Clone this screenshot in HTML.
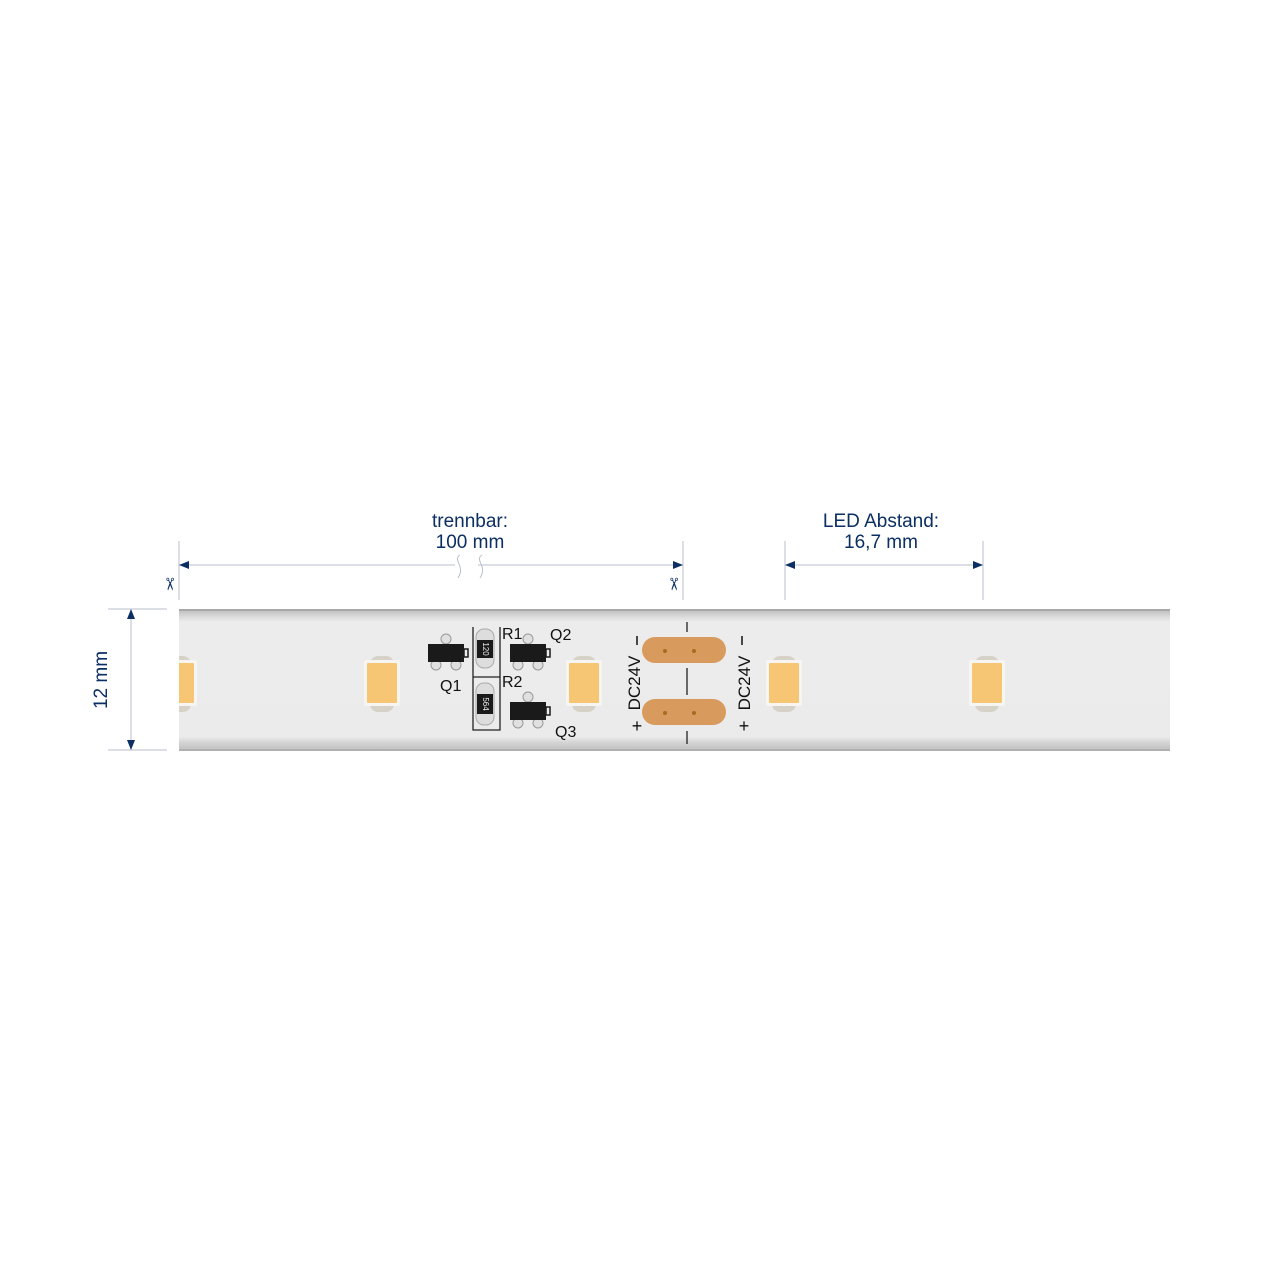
<!DOCTYPE html>
<html><head><meta charset="utf-8"><style>body{margin:0;background:#fff}svg{display:block}</style></head><body>
<svg width="1280" height="1280" viewBox="0 0 1280 1280" xmlns="http://www.w3.org/2000/svg" font-family="Liberation Sans, sans-serif">
<defs>
<linearGradient id="strip" x1="0" y1="0" x2="0" y2="1">
<stop offset="0" stop-color="#b9b9b9"/><stop offset="0.05" stop-color="#d8d8d8"/><stop offset="0.09" stop-color="#ececec"/>
<stop offset="0.9" stop-color="#ebebeb"/><stop offset="0.94" stop-color="#d4d4d4"/><stop offset="1" stop-color="#bdbdbd"/>
</linearGradient>
<g id="led">
<rect x="-12" y="-26" width="24" height="56" rx="8" fill="#d6d2c8"/>
<rect x="-18" y="-22" width="36" height="46" rx="2" fill="#f6f5f1"/>
<rect x="-15" y="-19" width="30" height="40" rx="1" fill="#f6c675"/>
</g>
<g id="tr">
<circle cx="0" cy="-14" r="5" fill="#e0e0e0" stroke="#999"/>
<circle cx="-10" cy="12" r="5" fill="#e0e0e0" stroke="#999"/>
<circle cx="10" cy="12" r="5" fill="#e0e0e0" stroke="#999"/>
<rect x="-18" y="-9" width="36" height="18" fill="#1a1a1a"/>
<rect x="18" y="-4" width="4" height="8" fill="none" stroke="#1a1a1a" stroke-width="1.5"/>
</g>
</defs>
<rect x="179" y="609" width="991" height="142" fill="url(#strip)"/>
<rect x="179" y="609" width="991" height="2" fill="#a8a8a8"/>
<rect x="179" y="749" width="991" height="2" fill="#b0b0b0"/>
<svg x="179" y="600" width="20" height="160" overflow="hidden"><use href="#led" x="0" y="82"/></svg>
<use href="#led" x="382" y="682"/>
<use href="#led" x="584" y="682"/>
<use href="#led" x="784" y="682"/>
<use href="#led" x="987" y="682"/>
<use href="#tr" x="446" y="653"/>
<use href="#tr" x="528" y="653"/>
<use href="#tr" x="528" y="711"/>
<path d="M473 627 V730 H500 V627 M473 677 H500" fill="none" stroke="#222" stroke-width="1.3"/>
<rect x="476" y="629" width="18" height="39" rx="8" fill="#ddd" stroke="#aaa"/>
<rect x="477" y="640" width="16" height="18" fill="#1a1a1a"/>
<text transform="translate(485,649) rotate(90)" font-size="8" fill="#eee" text-anchor="middle" dominant-baseline="middle">120</text>
<rect x="476" y="683" width="18" height="42" rx="8" fill="#ddd" stroke="#aaa"/>
<rect x="477" y="694" width="16" height="20" fill="#1a1a1a"/>
<text transform="translate(485,704) rotate(90)" font-size="8" fill="#eee" text-anchor="middle" dominant-baseline="middle">564</text>
<g font-size="16" fill="#111">
<text x="502" y="639">R1</text><text x="550" y="640">Q2</text>
<text x="440" y="691">Q1</text><text x="502" y="687">R2</text>
<text x="555" y="737">Q3</text>
</g>
<rect x="642" y="637" width="84" height="26" rx="13" fill="#d99a5e"/>
<rect x="642" y="699" width="84" height="26" rx="13" fill="#d99a5e"/>
<circle cx="665" cy="651" r="2" fill="#a86a20"/><circle cx="694" cy="651" r="2" fill="#a86a20"/>
<circle cx="665" cy="713" r="2" fill="#a86a20"/><circle cx="694" cy="713" r="2" fill="#a86a20"/>
<path d="M687 622 V632 M687 668 V695 M687 731 V744" stroke="#222" stroke-width="1.3"/>
<g font-size="17" fill="#111">
<text transform="translate(640,683) rotate(-90)" text-anchor="middle">DC24V</text>
<text transform="translate(750,683) rotate(-90)" text-anchor="middle">DC24V</text>
<text x="637" y="732" text-anchor="middle" font-size="18">+</text>
<text x="744" y="732" text-anchor="middle" font-size="18">+</text>
<path d="M637 636 V645 M742 636 V645" stroke="#111" stroke-width="1.5"/>
</g>
<g stroke="#b8c0cc" stroke-width="1" fill="none">
<path d="M179 541 V600 M683 541 V600 M785 541 V600 M983 541 V600"/>
<path d="M179 565 H455 M478 565 H683 M785 565 H983"/>
<path d="M108 609 H167 M108 750 H167 M131 609 V750"/>
<path d="M460 555 C452 560,466 566,458 578 M482 555 C474 560,488 566,480 578"/>
</g>
<g fill="#0b2f63">
<path d="M179 565 L189 561 L189 569 Z"/><path d="M683 565 L673 561 L673 569 Z"/>
<path d="M785 565 L795 561 L795 569 Z"/><path d="M983 565 L973 561 L973 569 Z"/>
<path d="M131 609 L127 619 L135 619 Z"/><path d="M131 750 L127 740 L135 740 Z"/>
</g>
<g font-size="19" fill="#0b2f63" text-anchor="middle">
<text x="470" y="527">trennbar:</text><text x="470" y="548">100 mm</text>
<text x="881" y="527">LED Abstand:</text><text x="881" y="548">16,7 mm</text>
<text transform="translate(107,680) rotate(-90)">12 mm</text>
</g>
<g font-size="17" fill="#0b2f63"><text transform="translate(164,577) rotate(90)">✂</text><text transform="translate(668,577) rotate(90)">✂</text></g>
</svg>
</body></html>
